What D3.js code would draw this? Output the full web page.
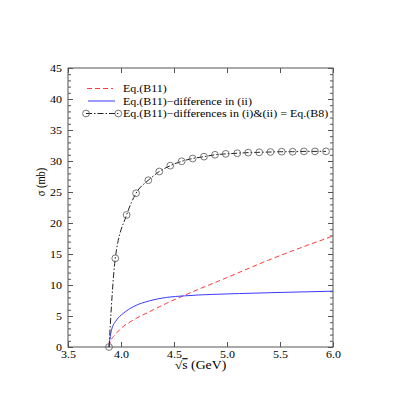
<!DOCTYPE html>
<html>
<head>
<meta charset="utf-8">
<script src="https://cdn.jsdelivr.net/npm/d3@7"></script>
<style>
  html, body { margin: 0; padding: 0; background: #fff; }
  svg text { fill: #000; }
</style>
</head>
<body>
<svg id="chart" width="415" height="415"></svg>
<script>
(function () {

    // tick values
    const xTickValues = [3.5, 4.0, 4.5, 5.0, 5.5, 6.0];
    const yTickValues = [0, 5, 10, 15, 20, 25, 30, 35, 40, 45];

    // Eq.(B11), red dashed
    const b11X = [3.887, 3.90, 3.93, 3.96, 4.00, 4.116, 4.27, 4.43, 4.60, 5.00, 5.39, 6.00];
    const b11Y = [0.0, 0.9, 1.7, 2.3, 3.0, 4.35, 5.7, 7.05, 8.35, 11.2, 14.0, 17.9];

    // Eq.(B11) - difference in (ii), blue solid
    const diffX = [3.887, 3.895, 3.91, 3.958, 4.02, 4.116, 4.27, 4.43, 4.60, 5.12, 5.50, 6.00];
    const diffY = [0.0, 1.2, 2.7, 4.35, 5.4, 6.5, 7.45, 8.0, 8.25, 8.62, 8.8, 9.0];

    // Eq.(B8), black dash-dot with circles
    const b8X = [3.887, 3.946, 4.053, 4.142, 4.258, 4.361, 4.465, 4.572, 4.676, 4.783, 4.887,
                 4.988, 5.097, 5.200, 5.304, 5.410, 5.516, 5.620, 5.726, 5.830, 5.934];
    const b8Y = [0.0, 14.3, 21.3, 24.8, 26.9, 28.3, 29.25, 29.95, 30.4, 30.7, 31.0,
                 31.15, 31.25, 31.35, 31.4, 31.45, 31.5, 31.5, 31.55, 31.55, 31.55];

    const legendLabels = [
        'Eq.(B11)',
        'Eq.(B11)\u2212difference in (ii)',
        'Eq.(B11)\u2212differences in (i)&(ii) = Eq.(B8)'
    ];

    const serif = "'Liberation Serif', 'Times New Roman', serif";
    const svg = d3.select('#chart');
    const stretch = 'scale(1.2,1)';

    const x = d3.scaleLinear().domain([3.5, 6.0]).range([68, 333]);
    const y = d3.scaleLinear().domain([0, 45]).range([347, 68]);

    const frameColor = '#555';

    // frame
    svg.append('rect')
        .attr('x', x(3.5)).attr('y', y(45))
        .attr('width', x(6.0) - x(3.5)).attr('height', y(0) - y(45))
        .attr('fill', 'none').attr('stroke', frameColor).attr('stroke-width', 1);

    function styleAxis (g) {
        g.attr('font-family', null);
        g.select('.domain').remove();
        g.selectAll('line').attr('stroke', frameColor);
        g.selectAll('text').attr('font-size', 10).style('font-family', serif);
    }

    // bottom
    const gBottom = svg.append('g')
        .attr('transform', `translate(0,${y(0)})`)
        .call(d3.axisBottom(x).tickValues(xTickValues).tickSize(-5).tickPadding(4)
            .tickFormat(d3.format('.1f')))
        .call(styleAxis);
    gBottom.selectAll('text').attr('transform', stretch);

    // top
    svg.append('g')
        .attr('transform', `translate(0,${y(45)})`)
        .call(d3.axisTop(x).tickValues(xTickValues).tickSize(-5).tickFormat(''))
        .call(styleAxis);

    // left, minor then major
    const minorY = y.ticks(45).filter((d) => d % 5 !== 0);
    svg.append('g')
        .attr('transform', `translate(${x(3.5)},0)`)
        .call(d3.axisLeft(y).tickValues(minorY).tickSize(-3).tickFormat(''))
        .call(styleAxis);
    const gLeft = svg.append('g')
        .attr('transform', `translate(${x(3.5)},0)`)
        .call(d3.axisLeft(y).tickValues(yTickValues).tickSize(-5).tickPadding(0).tickFormat(d3.format('d')))
        .call(styleAxis);
    gLeft.selectAll('text').attr('x', -5).attr('transform', stretch);

    // right
    svg.append('g')
        .attr('transform', `translate(${x(6.0)},0)`)
        .call(d3.axisRight(y).tickValues(minorY).tickSize(-3).tickFormat(''))
        .call(styleAxis);
    svg.append('g')
        .attr('transform', `translate(${x(6.0)},0)`)
        .call(d3.axisRight(y).tickValues(yTickValues).tickSize(-5).tickFormat(''))
        .call(styleAxis);

    // axis titles
    const xTitle = svg.append('text')
        .attr('transform', `translate(${(x(3.5) + x(6.0)) / 2},369) ${stretch}`)
        .attr('text-anchor', 'middle')
        .style('font-family', serif)
        .attr('font-size', 11.5);
    xTitle.append('tspan').text('\u221A');
    xTitle.append('tspan').style('text-decoration', 'overline').text('s');
    xTitle.append('tspan').text(' (GeV)');

    svg.append('text')
        .attr('transform', `translate(45,182) rotate(-90) scale(1,1.2)`)
        .attr('text-anchor', 'middle')
        .style('font-family', serif)
        .attr('font-size', 10.5)
        .text('\u03C3 (mb)');

    // curves
    const line = d3.line()
        .curve(d3.curveMonotoneX)
        .x((d) => x(d[0]))
        .y((d) => y(d[1]));

    const plot = svg.append('g');

    plot.append('path')
        .datum(d3.zip(b11X, b11Y))
        .attr('d', line)
        .attr('fill', 'none').attr('stroke', '#ff3b3b').attr('stroke-width', 1)
        .attr('stroke-dasharray', '5,3');

    plot.append('path')
        .datum(d3.zip(diffX, diffY))
        .attr('d', line)
        .attr('fill', 'none').attr('stroke', '#3a3aff').attr('stroke-width', 1);

    const b8Data = d3.zip(b8X, b8Y);
    plot.append('path')
        .datum(b8Data)
        .attr('d', line)
        .attr('fill', 'none').attr('stroke', '#222').attr('stroke-width', 1)
        .attr('stroke-dasharray', '6,2,1.5,2');

    plot.selectAll('circle.b8')
        .data(b8Data)
        .join('circle')
        .attr('class', 'b8')
        .attr('cx', (d) => x(d[0]))
        .attr('cy', (d) => y(d[1]))
        .attr('r', 3.4)
        .attr('fill', 'none')
        .attr('stroke', '#555')
        .attr('stroke-width', 0.8);

    // legend
    const legend = svg.append('g');
    const rowY = [88.5, 101, 113.5];

    legend.append('line')
        .attr('x1', 87).attr('x2', 113).attr('y1', rowY[0]).attr('y2', rowY[0])
        .attr('stroke', '#ff3b3b').attr('stroke-dasharray', '5,3');
    legend.append('line')
        .attr('x1', 88).attr('x2', 115).attr('y1', rowY[1]).attr('y2', rowY[1])
        .attr('stroke', '#3a3aff');
    legend.append('line')
        .attr('x1', 86).attr('x2', 118.3).attr('y1', rowY[2]).attr('y2', rowY[2])
        .attr('stroke', '#222').attr('stroke-dasharray', '6,2,1.5,2');
    legend.selectAll('circle')
        .data([86, 118.3])
        .join('circle')
        .attr('cx', (d) => d).attr('cy', rowY[2]).attr('r', 3.4)
        .attr('fill', 'none').attr('stroke', '#555').attr('stroke-width', 0.8);

    legend.selectAll('text')
        .data(legendLabels)
        .join('text')
        .attr('transform', (d, i) => `translate(123,${rowY[i] + 3.5}) ${stretch}`)
        .style('font-family', serif)
        .attr('font-size', 10)
        .text((d) => d);

})();
</script>
</body>
</html>
